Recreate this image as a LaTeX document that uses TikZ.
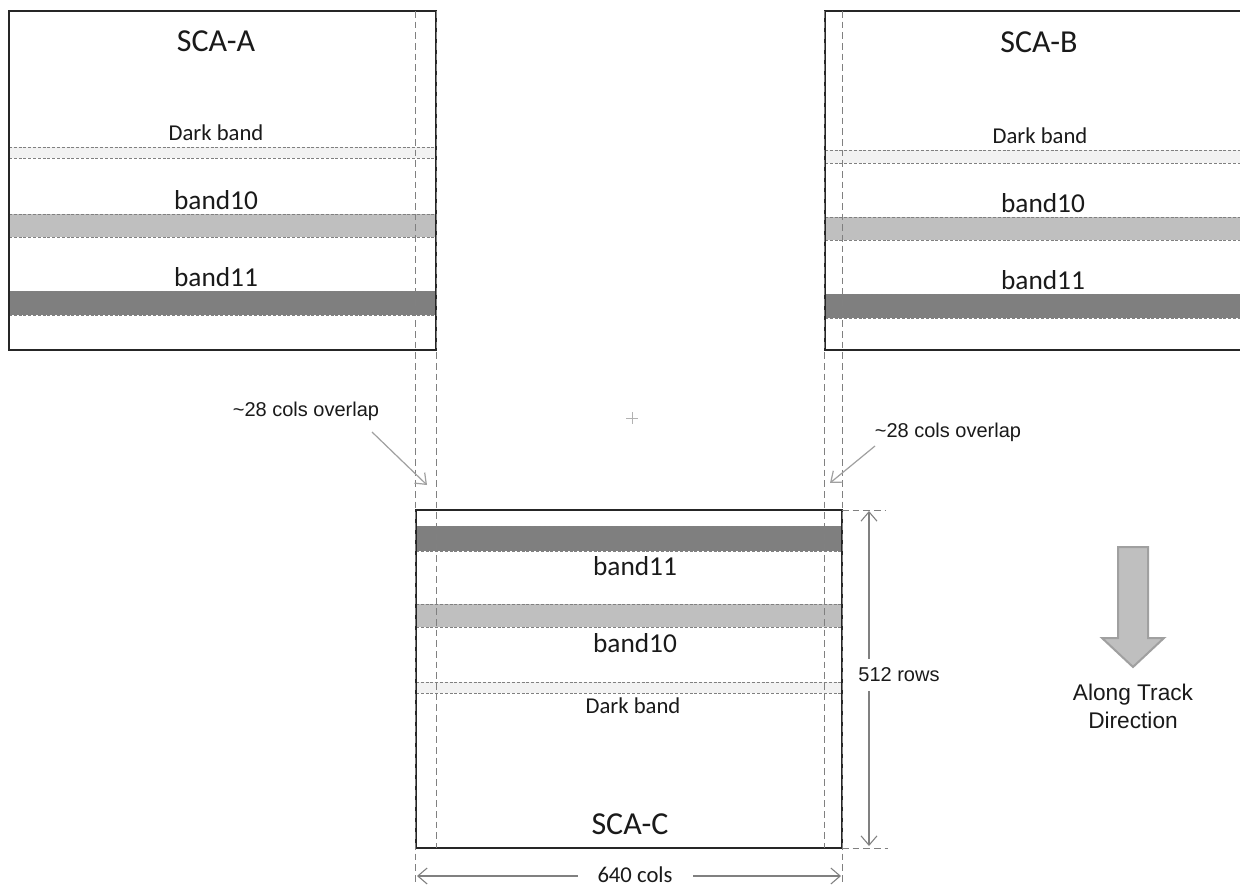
\documentclass[tikz,border=0pt]{standalone}
\usepackage{fontspec}
\usetikzlibrary{arrows.meta}
\newfontfamily\calfont{Carlito}
\newfontfamily\arifont{Liberation Sans}
\definecolor{darkfill}{HTML}{F2F2F2}
\definecolor{b10fill}{HTML}{BFBFBF}
\definecolor{b11fill}{HTML}{7F7F7F}
\definecolor{guidegray}{HTML}{808080}
\definecolor{arrowgray}{HTML}{A0A0A0}
\definecolor{txt}{HTML}{1A1A1A}
\tikzset{
  scabox/.style={draw=black!85, line width=1pt},
  guide/.style={draw=guidegray, line width=0.7pt, dash pattern=on 5pt off 3pt},
  bandedge/.style={draw=guidegray, line width=0.6pt, dash pattern=on 2.2pt off 1.4pt},
  darkband/.style={fill=darkfill},
  bandten/.style={fill=b10fill},
  bandeleven/.style={fill=b11fill},
  title/.style={font=\calfont\fontsize{24}{28}\selectfont, text=txt, inner sep=0pt},
  bandlbl/.style={font=\calfont\fontsize{20.5}{24}\selectfont, text=txt, inner sep=0pt},
  darklbl/.style={font=\calfont\fontsize{17}{20}\selectfont, text=txt, inner sep=0pt},
  note/.style={font=\arifont\fontsize{15}{18}\selectfont, text=txt, inner sep=0pt},
  dimarrow/.style={draw=guidegray, line width=0.8pt, {Straight Barb[length=7pt,width=12pt]}-{Straight Barb[length=7pt,width=12pt]}},
  ptr/.style={draw=arrowgray, line width=0.9pt, -{Straight Barb[length=7pt,width=11pt]}},
}
\begin{document}
\begin{tikzpicture}[x=0.75pt,y=-0.75pt]
\clip (0,0) rectangle (1240,885);
\fill[white] (0,0) rectangle (1240,885);

% ---------- SCA-A ----------
\path[darkband] (9,147) rectangle (436,158);
\path[bandten] (9,214) rectangle (436,237);
\path[bandeleven] (9,291) rectangle (436,315);
\foreach \yy in {147,158,214,237,291,315} \draw[bandedge] (9,\yy) -- (436,\yy);
\draw[scabox] (9,11) rectangle (436,350);
\node[title] (tA) at (216,41) {SCA-A};
\node[darklbl] (dA) at (216,133) {Dark band};
\node[bandlbl] (b10A) at (216,200) {band10};
\node[bandlbl] (b11A) at (216,277) {band11};

% ---------- SCA-B ----------
\path[darkband] (825,150) rectangle (1245,163);
\path[bandten] (825,217) rectangle (1245,240);
\path[bandeleven] (825,294) rectangle (1245,318);
\foreach \yy in {150,163,217,240,294,318} \draw[bandedge] (825,\yy) -- (1245,\yy);
\draw[scabox] (1245,11) -- (825,11) -- (825,350) -- (1245,350);
\node[title] (tB) at (1039,42) {SCA-B};
\node[darklbl] (dB) at (1040,136) {Dark band};
\node[bandlbl] (b10B) at (1043,203) {band10};
\node[bandlbl] (b11B) at (1043,280) {band11};

% ---------- SCA-C ----------
\path[bandeleven] (416,526) rectangle (842,551);
\path[bandten] (416,604) rectangle (842,627);
\path[darkband] (416,682) rectangle (842,693);
\foreach \yy in {526,551,604,627,682,693} \draw[bandedge] (416,\yy) -- (842,\yy);
\draw[scabox] (416,510) rectangle (842,848);
\node[bandlbl] (b11C) at (635,566) {band11};
\node[bandlbl] (b10C) at (635,643) {band10};
\node[darklbl] (dC) at (633,706) {Dark band};
\node[title] (tC) at (630,824) {SCA-C};

% ---------- overlap guides ----------
\draw[guide] (415,11) -- (415,885);
\draw[guide] (436,11) -- (436,848);
\draw[guide] (824,11) -- (824,848);
\draw[guide] (842,11) -- (842,885);
\draw[guide] (842,510) -- (886,510);
\draw[guide] (842,848) -- (888,848);

% ---------- overlap notes ----------
\node[note] (ovA) at (306,411) {\textasciitilde28 cols overlap};
\node[note] (ovB) at (948,432) {\textasciitilde28 cols overlap};
\coordinate (ovAend) at (427,485);
\coordinate (ovBend) at (830,483);
\draw[ptr] (372,432) -- (ovAend);
\draw[ptr] (875,446) -- (ovBend);

% ---------- centre mark ----------
\draw[draw=black!30, line width=0.6pt] (626,418) -- (638,418) (632,412) -- (632,424);

% ---------- dimensions ----------
\coordinate (rTop) at (869,511);
\coordinate (rBot) at (869,846);
\draw[dimarrow] (rTop) -- (rBot);
\node[note, fill=white, inner xsep=1pt, inner ysep=7pt] (rows) at (899,675) {512 rows};
\coordinate (cL) at (417,876);
\coordinate (cR) at (841,876);
\draw[dimarrow] (cL) -- (cR);
\node[font=\calfont\fontsize{17}{20}\selectfont, text=txt, fill=white, inner xsep=15pt, inner ysep=0pt] (cols) at (635,875) {640 cols};

% ---------- along track arrow ----------
\filldraw[fill=b10fill, draw=arrowgray, line width=1.5pt, line join=miter]
  (1118,547) -- (1148,547) -- (1148,638) -- (1164,638) -- (1133,667) -- (1102,638) -- (1118,638) -- cycle;
\node[font=\arifont\fontsize{17}{21}\selectfont, text=txt, align=center, inner sep=0pt] (along) at (1133,706) {Along Track\\Direction};
\end{tikzpicture}
\end{document}
